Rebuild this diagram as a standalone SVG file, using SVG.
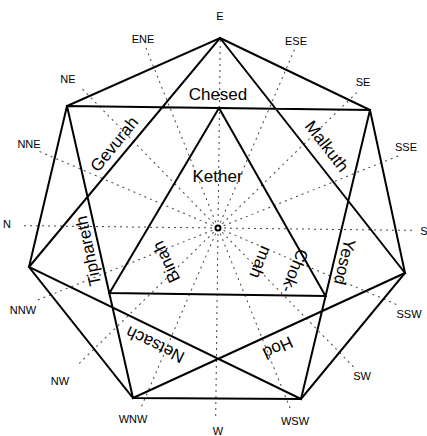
<svg xmlns="http://www.w3.org/2000/svg" width="427" height="436" viewBox="0 0 427 436">
<style>
.ln{stroke:#000;stroke-width:2;fill:none;stroke-linejoin:miter}
.ray{stroke:#444;stroke-width:1;stroke-dasharray:2 4;fill:none}
.lbl{font-family:"Liberation Sans",Arial,Helvetica,sans-serif;font-size:11px;fill:#000;text-anchor:middle}
.nm{font-family:"Liberation Sans",Arial,Helvetica,sans-serif;font-size:17px;fill:#000;text-anchor:middle}
</style>
<defs>
<line id="r" x1="218" y1="222" x2="218" y2="33" class="ray"/>
<line id="r2" x1="218" y1="222" x2="218" y2="38" class="ray"/>
</defs>
<rect width="427" height="436" fill="#fff"/>
<g id="rays" transform="rotate(0.7 218 228)">
<use href="#r2"/>
<use href="#r" transform="rotate(-22.5 218 228)"/>
<use href="#r" transform="rotate(-45 218 228)"/>
<use href="#r" transform="rotate(-67.5 218 228)"/>
<use href="#r" transform="rotate(-90 218 228)"/>
<use href="#r" transform="rotate(-112.5 218 228)"/>
<use href="#r" transform="rotate(-135 218 228)"/>
<use href="#r" transform="rotate(-157.5 218 228)"/>
<use href="#r2" transform="rotate(180 218 228)"/>
<use href="#r" transform="rotate(157.5 218 228)"/>
<use href="#r" transform="rotate(135 218 228)"/>
<use href="#r" transform="rotate(112.5 218 228)"/>
<use href="#r" transform="rotate(90 218 228)"/>
<use href="#r" transform="rotate(67.5 218 228)"/>
<use href="#r" transform="rotate(45 218 228)"/>
<use href="#r" transform="rotate(22.5 218 228)"/>
</g>
<g id="connectors">
<polygon class="ln" points="220,38 370,110 405,273 301,399 133,398 29,267 67,106"/>
<polygon class="ln" points="220,38 405,273 133,398 67,106 370,110 301,399 29,267"/>
<polygon class="ln" points="219,108 109.5,293 325.5,296"/>
</g>
<g id="center"><circle cx="218" cy="228" r="2.5" fill="#fff" stroke="#000" stroke-width="2"/></g>
<g id="compass">
<text class="lbl" x="220" y="20">E</text>
<text class="lbl" x="143" y="43">ENE</text>
<text class="lbl" x="68" y="83">NE</text>
<text class="lbl" x="29" y="148">NNE</text>
<text class="lbl" x="7" y="228">N</text>
<text class="lbl" x="23" y="314">NNW</text>
<text class="lbl" x="60" y="385">NW</text>
<text class="lbl" x="133" y="423">WNW</text>
<text class="lbl" x="218" y="435">W</text>
<text class="lbl" x="424" y="235">S</text>
<text class="lbl" x="295" y="425">WSW</text>
<text class="lbl" x="362" y="380">SW</text>
<text class="lbl" x="409" y="318">SSW</text>
<text class="lbl" x="406" y="151">SSE</text>
<text class="lbl" x="363" y="86">SE</text>
<text class="lbl" x="296" y="45">ESE</text>
</g>
<g id="chesed"><text class="nm" x="218" y="100">Chesed</text></g>
<g id="kether"><text class="nm" x="217.5" y="182">Kether</text></g>
<g id="gevurah" transform="translate(114 144) rotate(-51)"><text class="nm" x="0" y="6">Gevurah</text></g>
<g id="malkuth" transform="translate(327 146) rotate(52)"><text class="nm" x="0" y="6">Malkuth</text></g>
<g id="tiphareth" transform="translate(88 251) rotate(-102)"><text class="nm" x="0" y="6">Tiphareth</text></g>
<g id="binah" transform="translate(166 262) rotate(-115)"><text class="nm" x="0" y="6">Binah</text></g>
<g id="chokmah">
<text class="nm" transform="translate(295 271) rotate(112)" x="0" y="6">Chok-</text>
<text class="nm" transform="translate(260 262) rotate(112)" x="0" y="5">mah</text>
</g>
<g id="yesod" transform="translate(345 262) rotate(103.4)"><text class="nm" x="0" y="6">Yesod</text></g>
<g id="netsach" transform="translate(155 345) rotate(-154)"><text class="nm" x="0" y="6">Netsach</text></g>
<g id="hod" transform="translate(278 348) rotate(155)"><text class="nm" x="0" y="6">Hod</text></g>
</svg>
